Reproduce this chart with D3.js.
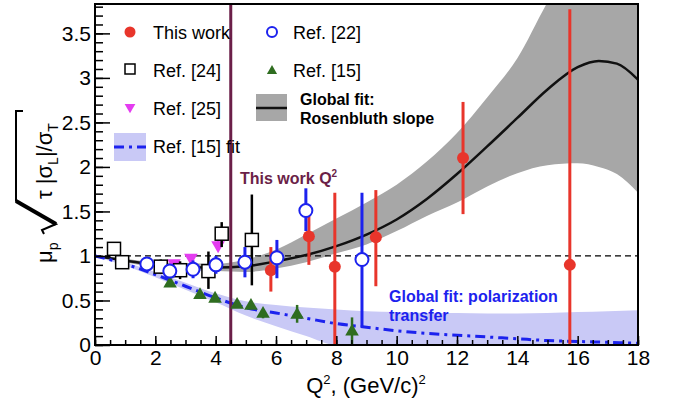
<!DOCTYPE html>
<html>
<head>
<meta charset="utf-8">
<script src="https://cdn.jsdelivr.net/npm/d3@7"></script>
<style>
  body { margin: 0; background: #fff; }
  svg { font-family: "Liberation Sans", Arial, Helvetica, sans-serif; }
</style>
</head>
<body>
<div id="chart"></div>
<script>
// ---- data ----
// This work
const workQ2  = [5.83, 7.09, 7.95, 9.31, 12.2, 15.74];
const workVal = [0.84, 1.22, 0.88, 1.21, 2.10, 0.90];
const workLo  = [0.60, 0.90, 0.00, 0.66, 1.47, 0.00];
const workHi  = [1.10, 1.54, 1.71, 1.74, 2.73, 3.77];

// Ref. [22]
const r22Q2  = [1.72, 2.48, 3.25, 4.01, 4.97, 6.03, 6.99, 8.85];
const r22Val = [0.91, 0.83, 0.85, 0.90, 0.93, 0.98, 1.51, 0.96];
const r22Lo  = [0.89, 0.80, 0.75, 0.80, 0.76, 0.75, 1.28, 0.20];
const r22Hi  = [0.93, 0.86, 0.95, 1.00, 1.10, 1.18, 1.76, 1.71];

// Ref. [24]
const r24Q2  = [0.63, 0.90, 2.18, 2.82, 3.76, 4.20, 5.20];
const r24Val = [1.08, 0.93, 0.88, 0.84, 0.83, 1.25, 1.18];
const r24Lo  = [1.06, 0.91, 0.80, 0.74, 0.63, 1.10, 0.67];
const r24Hi  = [1.10, 0.95, 0.96, 0.94, 1.05, 1.38, 1.69];

// Ref. [25]
const r25Q2  = [2.62, 3.18, 4.08];
const r25Val = [0.92, 0.98, 1.12];
const r25Lo  = [0.90, 0.96, 1.07];
const r25Hi  = [0.94, 1.00, 1.17];

// Ref. [15]
const r15Q2  = [2.49, 3.48, 3.98, 4.71, 5.17, 5.57, 6.70, 8.52];
const r15Val = [0.69, 0.56, 0.52, 0.45, 0.44, 0.35, 0.34, 0.15];
const r15Lo  = [0.66, 0.52, 0.50, 0.43, 0.42, 0.30, 0.25, 0.00];
const r15Hi  = [0.72, 0.60, 0.54, 0.47, 0.46, 0.40, 0.45, 0.31];

// Global fit: Rosenbluth slope (curve + band)
const rosenQ2 = [0, 1, 2, 3, 4, 5, 6, 7, 8, 9, 10, 11, 12, 13, 14, 15, 16, 16.7, 17.3, 18];
const rosenC  = [1.00, 0.95, 0.90, 0.88, 0.87, 0.885, 0.94, 1.01, 1.11, 1.24, 1.41, 1.64, 1.92, 2.23, 2.55, 2.87, 3.12, 3.19, 3.16, 2.98];
const rosenLo = [0.99, 0.93, 0.87, 0.84, 0.83, 0.82, 0.86, 0.93, 1.03, 1.13, 1.28, 1.45, 1.60, 1.78, 1.93, 2.02, 2.04, 2.00, 1.92, 1.71];
const rosenHi = [1.01, 0.97, 0.93, 0.92, 0.91, 0.96, 1.07, 1.24, 1.42, 1.60, 1.80, 2.06, 2.38, 2.78, 3.22, 3.85, 4.40, 4.80, 5.10, 5.40];

// Global fit: polarization transfer (Ref. [15] fit)
const polQ2 = [0, 1, 2, 3, 4, 5, 6, 7, 8, 9, 10, 11, 12, 13, 14, 15, 16, 17, 18];
const polC  = [1.00, 0.91, 0.79, 0.66, 0.53, 0.42, 0.36, 0.30, 0.24, 0.20, 0.16, 0.13, 0.11, 0.09, 0.07, 0.05, 0.04, 0.03, 0.02];
const polLo = [0.99, 0.89, 0.76, 0.62, 0.48, 0.33, 0.21, 0.10, 0.00, 0, 0, 0, 0, 0, 0, 0, 0, 0, 0];
const polHi = [1.01, 0.93, 0.82, 0.70, 0.58, 0.49, 0.45, 0.42, 0.40, 0.38, 0.37, 0.36, 0.36, 0.355, 0.355, 0.36, 0.37, 0.38, 0.39];

const thisWorkQ2 = 4.5;

const xMajor = [0, 2, 4, 6, 8, 10, 12, 14, 16, 18];
const yMajor = [0, 0.5, 1, 1.5, 2, 2.5, 3, 3.5];

// ---- layout ----
const W = 683, H = 404;
const margin = {top: 4, right: 45, bottom: 59, left: 95};
const width = W - margin.left - margin.right,
      height = H - margin.top - margin.bottom;

const red = "#e8352b", blue = "#1c22ee", magenta = "#e43cf0",
      green = "#2f6d20", maroon = "#6b1f48";

const svg = d3.select("#chart")
  .append("svg")
    .attr("width", W)
    .attr("height", H);

const g = svg.append("g")
  .attr("transform", `translate(${margin.left},${margin.top})`);

const x = d3.scaleLinear().domain([0, 18]).range([0, width]);
const y = d3.scaleLinear().domain([0, 3.83]).range([height, 0]);

g.append("clipPath").attr("id", "plotclip")
  .append("rect").attr("width", width).attr("height", height);

const plot = g.append("g").attr("clip-path", "url(#plotclip)");

// bands
const band = (xs, lo, hi) => d3.area()
  .x((d, i) => x(xs[i]))
  .y0((d, i) => y(lo[i]))
  .y1((d, i) => y(hi[i]))
  .curve(d3.curveMonotoneX)(xs);

plot.append("path").attr("d", band(rosenQ2, rosenLo, rosenHi)).attr("fill", "#a7a7a7");
plot.append("path").attr("d", band(polQ2, polLo, polHi)).attr("fill", "#c9c9f6");

const curve = (xs, ys) => d3.line()
  .x((d, i) => x(xs[i]))
  .y((d, i) => y(ys[i]))
  .curve(d3.curveMonotoneX)(xs);

// dashed y = 1 line
plot.append("line")
  .attr("x1", x(0)).attr("x2", x(18))
  .attr("y1", y(1)).attr("y2", y(1))
  .attr("stroke", "#000").attr("stroke-width", 1.2)
  .attr("stroke-dasharray", "6,4");

plot.append("path").attr("d", curve(rosenQ2, rosenC))
  .attr("fill", "none").attr("stroke", "#111").attr("stroke-width", 2.5);

plot.append("path").attr("d", curve(polQ2, polC))
  .attr("fill", "none").attr("stroke", blue).attr("stroke-width", 3)
  .attr("stroke-dasharray", "10,5,3,5");

// this work Q^2 line
plot.append("line")
  .attr("x1", x(thisWorkQ2)).attr("x2", x(thisWorkQ2))
  .attr("y1", 0).attr("y2", height)
  .attr("stroke", maroon).attr("stroke-width", 3);

// data sets
function series(xs, vals, lo, hi, color, barW, drawMark) {
  const pts = xs.map((q, i) => ({q, v: vals[i], lo: lo[i], hi: hi[i]}));
  plot.append("g").selectAll("line")
    .data(pts)
    .join("line")
      .attr("x1", d => x(d.q)).attr("x2", d => x(d.q))
      .attr("y1", d => y(d.lo)).attr("y2", d => y(d.hi))
      .attr("stroke", color).attr("stroke-width", barW);
  const mk = plot.append("g").selectAll("g")
    .data(pts)
    .join("g")
      .attr("transform", d => `translate(${x(d.q)},${y(d.v)})`);
  drawMark(mk);
}

const tri = d3.symbol().type(d3.symbolTriangle).size(80);

series(r15Q2, r15Val, r15Lo, r15Hi, green, 2.5, s =>
  s.append("path").attr("d", tri).attr("fill", green));

series(r25Q2, r25Val, r25Lo, r25Hi, magenta, 2.5, s =>
  s.append("path").attr("d", tri).attr("transform", "rotate(180)").attr("fill", magenta));

series(r24Q2, r24Val, r24Lo, r24Hi, "#000", 2.5, s =>
  s.append("rect").attr("x", -6.5).attr("y", -6.5).attr("width", 13).attr("height", 13)
    .attr("fill", "#fff").attr("stroke", "#000").attr("stroke-width", 1.5));

series(workQ2, workVal, workLo, workHi, red, 3, s =>
  s.append("circle").attr("r", 6).attr("fill", red));

series(r22Q2, r22Val, r22Lo, r22Hi, blue, 3, s =>
  s.append("circle").attr("r", 6.5).attr("fill", "#fff")
    .attr("stroke", blue).attr("stroke-width", 2));

// axes (ticks point inward)
g.append("g")
  .call(d3.axisLeft(y).tickValues(yMajor).tickSize(-15).tickPadding(4).tickFormat(d => String(d)));
g.append("g")
  .call(d3.axisLeft(y).tickValues(d3.range(0, 3.81, 0.1)).tickSize(-8).tickFormat(""));
g.append("g")
  .attr("transform", `translate(0,${height})`)
  .call(d3.axisBottom(x).tickValues(xMajor).tickSize(-9).tickPadding(5));
g.append("g")
  .attr("transform", `translate(0,${height})`)
  .call(d3.axisBottom(x).tickValues(d3.range(0, 18.01, 0.5)).tickSize(-5).tickFormat(""));

g.selectAll(".domain").remove();
g.selectAll(".tick line").attr("stroke", "#000").attr("stroke-width", 1.5);
g.selectAll(".tick text").attr("font-size", 21).attr("fill", "#000")
  .attr("font-family", "'Liberation Sans', Arial, sans-serif");

// frame
g.append("rect")
  .attr("width", width).attr("height", height)
  .attr("fill", "none").attr("stroke", "#000").attr("stroke-width", 2);

// axis titles
svg.append("text")
  .attr("x", 366).attr("y", 393)
  .attr("text-anchor", "middle")
  .attr("font-size", 22)
  .html('Q<tspan dy="-9" font-size="13">2</tspan><tspan dy="9">, (GeV/c)</tspan><tspan dy="-9" font-size="13">2</tspan>');

const yt = svg.append("g").attr("transform", "translate(52,263) rotate(-90)");
yt.append("text")
  .attr("font-size", 22)
  .html('μ<tspan dy="6" font-size="14">p</tspan>');
yt.append("path")
  .attr("d", "M29,-8 L33,-10 L39,4 L62,-36 L152,-36 L152,-29")
  .attr("fill", "none").attr("stroke", "#000").attr("stroke-width", 2)
  .attr("stroke-linejoin", "miter");
yt.append("path")
  .attr("d", "M39,4 L62,-36")
  .attr("stroke", "#000").attr("stroke-width", 4);
yt.append("text")
  .attr("x", 64)
  .attr("font-size", 22)
  .html('τ |σ<tspan dy="6" font-size="14">L</tspan><tspan dy="-6">|/σ</tspan><tspan dy="6" font-size="14">T</tspan>');

// in-plot annotations
svg.append("text")
  .attr("x", 240).attr("y", 184)
  .attr("font-size", 16).attr("font-weight", "bold").attr("fill", maroon)
  .html('This work Q<tspan dy="-7" font-size="10">2</tspan>');

svg.append("text")
  .attr("x", 389).attr("y", 302)
  .attr("font-size", 16).attr("font-weight", "bold").attr("fill", blue)
  .text("Global fit: polarization");
svg.append("text")
  .attr("x", 389).attr("y", 321)
  .attr("font-size", 16).attr("font-weight", "bold").attr("fill", blue)
  .text("transfer");

// legend
const leg = svg.append("g");
const legText = (lx, ly, t, bold) => leg.append("text")
  .attr("x", lx).attr("y", ly)
  .attr("font-size", bold ? 16 : 18)
  .attr("font-weight", bold ? "bold" : "normal")
  .text(t);

leg.append("circle").attr("cx", 130).attr("cy", 32).attr("r", 5.5).attr("fill", red);
legText(153, 39, "This work");
leg.append("rect").attr("x", 125).attr("y", 64).attr("width", 10).attr("height", 10)
  .attr("fill", "#fff").attr("stroke", "#000").attr("stroke-width", 1.5);
legText(153, 77, "Ref. [24]");
leg.append("path").attr("d", d3.symbol().type(d3.symbolTriangle).size(50)())
  .attr("transform", "translate(130,107) rotate(180)").attr("fill", magenta);
legText(153, 115, "Ref. [25]");
leg.append("rect").attr("x", 114).attr("y", 133).attr("width", 32).attr("height", 28).attr("fill", "#c9c9f6");
leg.append("line").attr("x1", 114).attr("x2", 146).attr("y1", 147).attr("y2", 147)
  .attr("stroke", blue).attr("stroke-width", 3).attr("stroke-dasharray", "10,5,3,5");
legText(153, 153, "Ref. [15] fit");

leg.append("circle").attr("cx", 272).attr("cy", 32).attr("r", 5).attr("fill", "none")
  .attr("stroke", blue).attr("stroke-width", 2);
legText(293, 39, "Ref. [22]");
leg.append("path").attr("d", d3.symbol().type(d3.symbolTriangle).size(45)())
  .attr("transform", "translate(272,71)").attr("fill", green);
legText(293, 77, "Ref. [15]");
leg.append("rect").attr("x", 256).attr("y", 94).attr("width", 31).attr("height", 27).attr("fill", "#a7a7a7");
leg.append("line").attr("x1", 256).attr("x2", 287).attr("y1", 108).attr("y2", 108)
  .attr("stroke", "#111").attr("stroke-width", 2.5);
legText(300, 105, "Global fit:", true);
legText(300, 124, "Rosenbluth slope", true);
</script>
</body>
</html>
